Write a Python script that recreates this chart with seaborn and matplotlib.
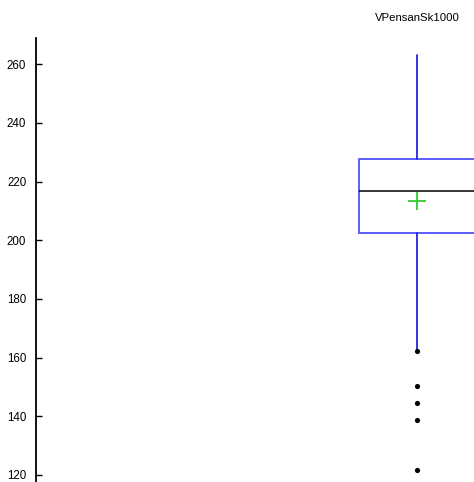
import matplotlib
matplotlib.use("Agg")
import matplotlib.pyplot as plt
import seaborn as sns
import pandas as pd

sns.set_style("white")
plt.rcParams["font.family"] = ["Liberation Sans", "DejaVu Sans"]

# Summary statistics for the single variable
variable = ["VPensanSk1000"]
whisker_low = [162.3]
q1 = [202.4]
median = [216.7]
q3 = [227.7]
whisker_high = [263.1]
mean = [213.5]
outliers = [[162.3, 150.3, 144.4, 138.6, 121.6]]
y_ticks = [120, 140, 160, 180, 200, 220, 240, 260]

stats = [
    dict(label=variable[i], whislo=whisker_low[i], q1=q1[i], med=median[i],
         q3=q3[i], whishi=whisker_high[i], mean=mean[i], fliers=[])
    for i in range(len(variable))
]

fig = plt.figure(figsize=(4.74, 4.82), dpi=100)
ax = fig.add_axes([36 / 474, 0.0, 1 - 36 / 474, 444 / 482])

ax.bxp(
    stats, positions=[0], widths=1.02, showcaps=False, showfliers=False,
    showmeans=False, manage_ticks=False,
    boxprops=dict(color="#5c5cff", linewidth=1.4),
    whiskerprops=dict(color="#2424e0", linewidth=1.3),
    medianprops=dict(color="black", linewidth=1.1),
)

flier_df = pd.DataFrame({
    "x": [0] * len(outliers[0]),
    "value": outliers[0],
})
sns.scatterplot(data=flier_df, x="x", y="value", ax=ax, color="black",
                s=14, edgecolor="black", linewidth=0, zorder=5)

mean_df = pd.DataFrame({"x": [0], "value": mean})
sns.scatterplot(data=mean_df, x="x", y="value", ax=ax, marker="+",
                color="#33cc33", s=180, linewidth=1.3, zorder=6)

ax.set_xlim(-3.345, 0.497)
ax.set_ylim(117.6, 268.9)
ax.set_yticks(y_ticks)
ax.set_xticks([])
ax.set_xlabel("")
ax.set_ylabel("")
for side in ("top", "right", "bottom"):
    ax.spines[side].set_visible(False)
ax.spines["left"].set_color("black")
ax.spines["left"].set_linewidth(1.3)
ax.tick_params(axis="y", direction="in", length=4, width=1, pad=7,
               labelsize=8.3, colors="black", left=True)

fig.text(417.3 / 474, 1 - 18 / 482, variable[0], ha="center", va="center",
         fontsize=8.2, color="black")

fig.savefig("out.png", dpi=100, facecolor="white")
